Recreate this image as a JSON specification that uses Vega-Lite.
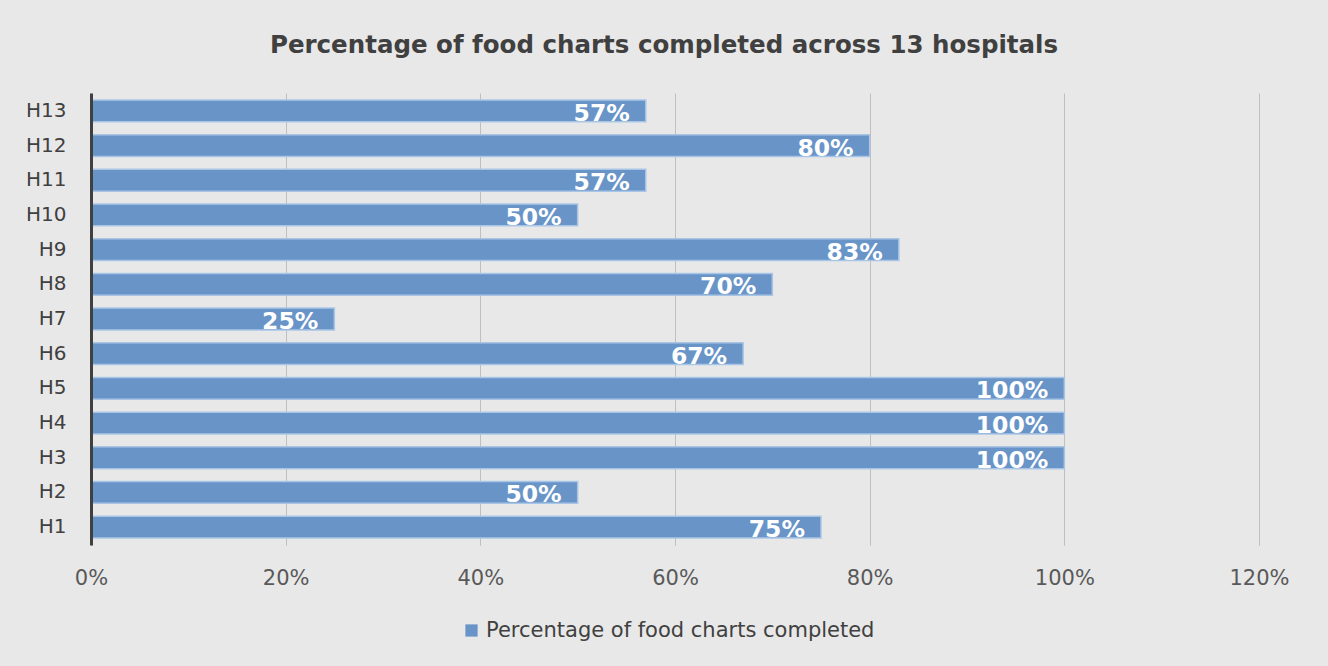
{
  "$schema": "https://vega.github.io/schema/vega-lite/v6.json",
  "width": 1168,
  "height": 452,
  "autosize": {"type": "none"},
  "padding": {"left": 91, "top": 93, "right": 69, "bottom": 121},
  "background": "#e8e8e8",
  "title": {
    "text": "Percentage of food charts completed across 13 hospitals",
    "font": "DejaVu Sans",
    "fontSize": 24.5,
    "fontWeight": "bold",
    "color": "#404040",
    "anchor": "middle",
    "offset": 35,
    "dx": -11
  },
  "data": {
    "values": [
      {"hospital": "H1", "pct": 0.75, "series": "Percentage of food charts completed"},
      {"hospital": "H2", "pct": 0.50, "series": "Percentage of food charts completed"},
      {"hospital": "H3", "pct": 1.00, "series": "Percentage of food charts completed"},
      {"hospital": "H4", "pct": 1.00, "series": "Percentage of food charts completed"},
      {"hospital": "H5", "pct": 1.00, "series": "Percentage of food charts completed"},
      {"hospital": "H6", "pct": 0.67, "series": "Percentage of food charts completed"},
      {"hospital": "H7", "pct": 0.25, "series": "Percentage of food charts completed"},
      {"hospital": "H8", "pct": 0.70, "series": "Percentage of food charts completed"},
      {"hospital": "H9", "pct": 0.83, "series": "Percentage of food charts completed"},
      {"hospital": "H10", "pct": 0.50, "series": "Percentage of food charts completed"},
      {"hospital": "H11", "pct": 0.57, "series": "Percentage of food charts completed"},
      {"hospital": "H12", "pct": 0.80, "series": "Percentage of food charts completed"},
      {"hospital": "H13", "pct": 0.57, "series": "Percentage of food charts completed"}
    ]
  },
  "encoding": {
    "y": {
      "field": "hospital",
      "type": "nominal",
      "sort": ["H13", "H12", "H11", "H10", "H9", "H8", "H7", "H6", "H5", "H4", "H3", "H2", "H1"],
      "scale": {"paddingInner": 0.37, "paddingOuter": 0.2},
      "axis": {
        "title": null,
        "ticks": false,
        "zindex": 1,
        "domainColor": "#404040",
        "domainWidth": 3,
        "labelFont": "DejaVu Sans",
        "labelFontSize": 20,
        "labelColor": "#404040",
        "labelPadding": 25
      }
    },
    "x": {
      "field": "pct",
      "type": "quantitative",
      "scale": {"domain": [0, 1.2], "nice": false},
      "axis": {
        "title": null,
        "values": [0, 0.2, 0.4, 0.6, 0.8, 1.0, 1.2],
        "format": ".0%",
        "domain": false,
        "ticks": false,
        "grid": true,
        "labelFlush": false,
        "gridColor": "#bfbfbf",
        "gridWidth": 1,
        "labelFont": "DejaVu Sans",
        "labelFontSize": 21,
        "labelColor": "#595959",
        "labelPadding": 22
      }
    }
  },
  "layer": [
    {
      "mark": {"type": "bar", "stroke": "#a9c5e6", "strokeWidth": 1.5},
      "encoding": {
        "color": {
          "field": "series",
          "type": "nominal",
          "scale": {"range": ["#6894c8"]},
          "legend": {
            "title": null,
            "orient": "none",
            "legendX": 370,
            "legendY": 527,
            "symbolType": "square",
            "symbolSize": 150,
            "symbolStrokeWidth": 0,
            "labelLimit": 0,
            "labelFont": "DejaVu Sans",
            "labelFontSize": 21,
            "labelColor": "#404040",
            "labelOffset": 4
          }
        }
      }
    },
    {
      "mark": {
        "type": "text",
        "align": "right",
        "baseline": "middle",
        "dx": -16,
        "dy": 3,
        "color": "white",
        "font": "DejaVu Sans",
        "fontWeight": "bold",
        "fontSize": 23.5
      },
      "encoding": {
        "text": {"field": "pct", "type": "quantitative", "format": ".0%"}
      }
    }
  ],
  "config": {
    "view": {"stroke": null}
  }
}
